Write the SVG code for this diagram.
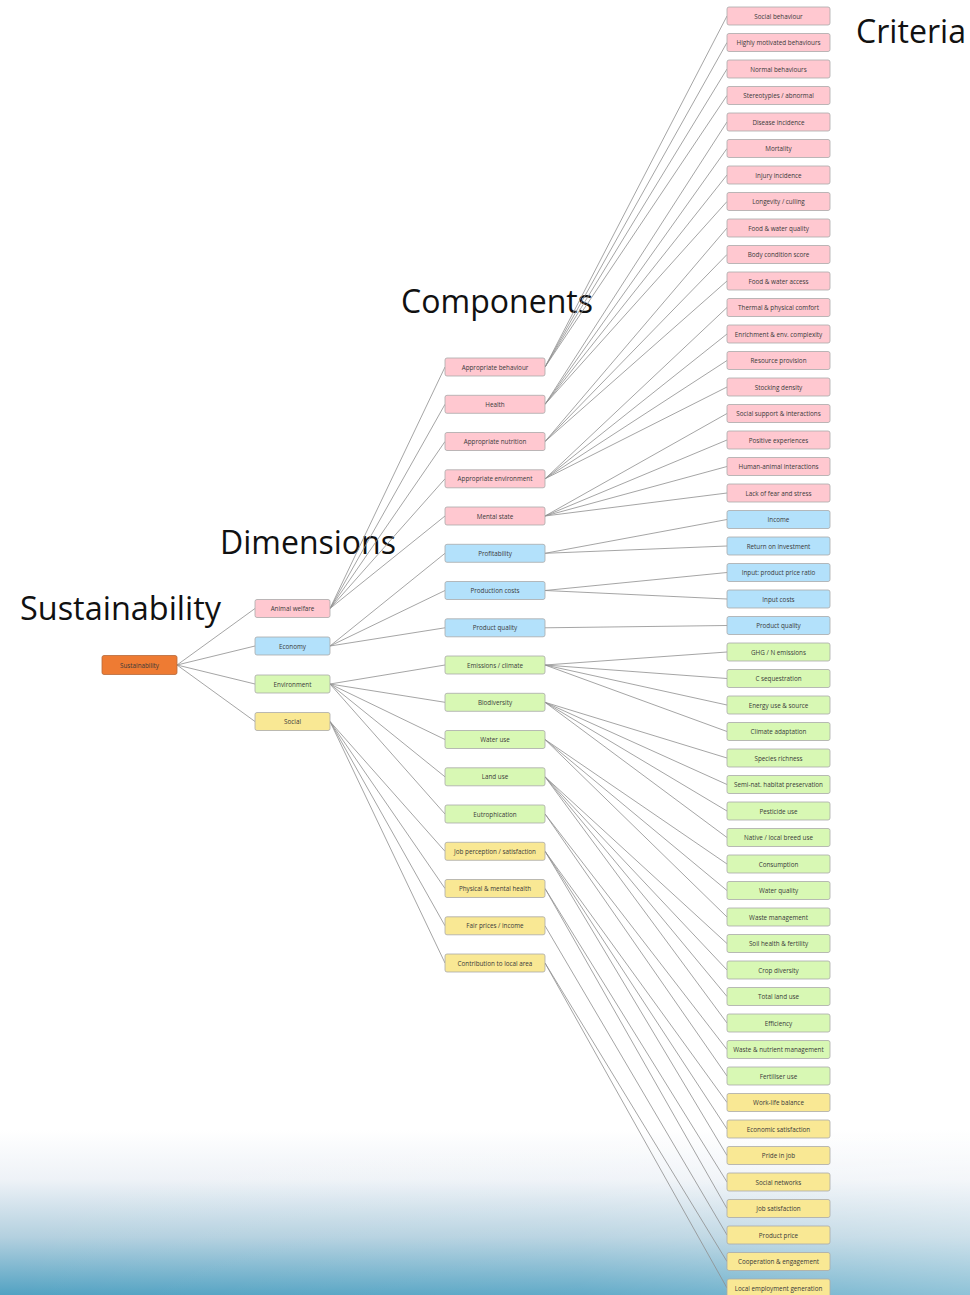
<svg xmlns="http://www.w3.org/2000/svg" width="970" height="1295" viewBox="0 0 970 1295">
<defs>
<linearGradient id="bg" x1="0" y1="1130" x2="0" y2="1295" gradientUnits="userSpaceOnUse">
<stop offset="0" stop-color="#ffffff"/>
<stop offset="0.3" stop-color="#eef2f7"/>
<stop offset="0.65" stop-color="#b3d0df"/>
<stop offset="1" stop-color="#52a2c2"/>
</linearGradient>
<linearGradient id="bgh" x1="0" y1="0" x2="970" y2="0" gradientUnits="userSpaceOnUse">
<stop offset="0" stop-color="#ffffff" stop-opacity="0"/>
<stop offset="0.6" stop-color="#ffffff" stop-opacity="0.1"/>
<stop offset="1" stop-color="#ffffff" stop-opacity="0.35"/>
</linearGradient>
<style>
.n rect{stroke:#a9a9a9;stroke-width:0.8}
.aw rect{fill:#ffc8d0}
.ec rect{fill:#b3e1fb}
.en rect{fill:#d8f8b4}
.so rect{fill:#f9e894}
.su rect{fill:#ee7b33;stroke:#b86a3a}
.n text{font-family:"Open Sans","Liberation Sans",sans-serif;font-size:6.3px;fill:#3a3a3a;text-anchor:middle;dominant-baseline:central}
.title{font-family:"Open Sans","Liberation Sans",sans-serif;font-size:32px;fill:#111}
#edges line{stroke:#8e8e8e;stroke-width:0.8}
</style>
</defs>
<rect x="0" y="0" width="970" height="1295" fill="#ffffff"/>
<rect x="0" y="1130" width="970" height="165" fill="url(#bg)"/>
<rect x="0" y="1130" width="970" height="165" fill="url(#bgh)"/>

<g id="titles">
<text class="title" x="20" y="620" textLength="201" lengthAdjust="spacingAndGlyphs">Sustainability</text>
<text class="title" x="220" y="554" textLength="176" lengthAdjust="spacingAndGlyphs">Dimensions</text>
<text class="title" x="401" y="313" textLength="192" lengthAdjust="spacingAndGlyphs">Components</text>
<text class="title" x="856" y="43" textLength="110" lengthAdjust="spacingAndGlyphs">Criteria</text>
</g>

<g id="edges">
<!-- Sustainability to dimensions -->
<line x1="177" y1="665" x2="255" y2="608.5"/>
<line x1="177" y1="665" x2="255" y2="646"/>
<line x1="177" y1="665" x2="255" y2="684"/>
<line x1="177" y1="665" x2="255" y2="721.5"/>
<!-- Dimensions to components -->
<line x1="330" y1="608.5" x2="445" y2="367"/>
<line x1="330" y1="608.5" x2="445" y2="404.3"/>
<line x1="330" y1="608.5" x2="445" y2="441.5"/>
<line x1="330" y1="608.5" x2="445" y2="478.8"/>
<line x1="330" y1="608.5" x2="445" y2="516"/>
<line x1="330" y1="646" x2="445" y2="553.3"/>
<line x1="330" y1="646" x2="445" y2="590.5"/>
<line x1="330" y1="646" x2="445" y2="627.8"/>
<line x1="330" y1="684" x2="445" y2="665"/>
<line x1="330" y1="684" x2="445" y2="702.3"/>
<line x1="330" y1="684" x2="445" y2="739.5"/>
<line x1="330" y1="684" x2="445" y2="776.8"/>
<line x1="330" y1="684" x2="445" y2="814"/>
<line x1="330" y1="721.5" x2="445" y2="851.3"/>
<line x1="330" y1="721.5" x2="445" y2="888.5"/>
<line x1="330" y1="721.5" x2="445" y2="925.8"/>
<line x1="330" y1="721.5" x2="445" y2="963"/>
<!-- Components to criteria -->
<line x1="545" y1="367" x2="727" y2="16"/>
<line x1="545" y1="367" x2="727" y2="42.5"/>
<line x1="545" y1="367" x2="727" y2="69"/>
<line x1="545" y1="367" x2="727" y2="95.5"/>
<line x1="545" y1="404.3" x2="727" y2="122"/>
<line x1="545" y1="404.3" x2="727" y2="148.5"/>
<line x1="545" y1="404.3" x2="727" y2="175"/>
<line x1="545" y1="404.3" x2="727" y2="201.5"/>
<line x1="545" y1="441.5" x2="727" y2="228"/>
<line x1="545" y1="441.5" x2="727" y2="254.5"/>
<line x1="545" y1="441.5" x2="727" y2="281"/>
<line x1="545" y1="478.8" x2="727" y2="307.5"/>
<line x1="545" y1="478.8" x2="727" y2="334"/>
<line x1="545" y1="478.8" x2="727" y2="360.5"/>
<line x1="545" y1="478.8" x2="727" y2="387"/>
<line x1="545" y1="516" x2="727" y2="413.5"/>
<line x1="545" y1="516" x2="727" y2="440"/>
<line x1="545" y1="516" x2="727" y2="466.5"/>
<line x1="545" y1="516" x2="727" y2="493"/>
<line x1="545" y1="553.3" x2="727" y2="519.5"/>
<line x1="545" y1="553.3" x2="727" y2="546"/>
<line x1="545" y1="590.5" x2="727" y2="572.5"/>
<line x1="545" y1="590.5" x2="727" y2="599"/>
<line x1="545" y1="627.8" x2="727" y2="625.5"/>
<line x1="545" y1="665" x2="727" y2="652"/>
<line x1="545" y1="665" x2="727" y2="678.5"/>
<line x1="545" y1="665" x2="727" y2="705"/>
<line x1="545" y1="665" x2="727" y2="731.5"/>
<line x1="545" y1="702.3" x2="727" y2="758"/>
<line x1="545" y1="702.3" x2="727" y2="784.5"/>
<line x1="545" y1="702.3" x2="727" y2="811"/>
<line x1="545" y1="702.3" x2="727" y2="837.5"/>
<line x1="545" y1="739.5" x2="727" y2="864"/>
<line x1="545" y1="739.5" x2="727" y2="890.5"/>
<line x1="545" y1="739.5" x2="727" y2="917"/>
<line x1="545" y1="776.8" x2="727" y2="943.5"/>
<line x1="545" y1="776.8" x2="727" y2="970"/>
<line x1="545" y1="776.8" x2="727" y2="996.5"/>
<line x1="545" y1="776.8" x2="727" y2="1023"/>
<line x1="545" y1="814" x2="727" y2="1049.5"/>
<line x1="545" y1="814" x2="727" y2="1076"/>
<line x1="545" y1="851.3" x2="727" y2="1102.5"/>
<line x1="545" y1="851.3" x2="727" y2="1129"/>
<line x1="545" y1="851.3" x2="727" y2="1155.5"/>
<line x1="545" y1="888.5" x2="727" y2="1182"/>
<line x1="545" y1="888.5" x2="727" y2="1208.5"/>
<line x1="545" y1="925.8" x2="727" y2="1235"/>
<line x1="545" y1="963" x2="727" y2="1261.5"/>
<line x1="545" y1="963" x2="727" y2="1288"/>
</g>

<g id="n-sustainability" class="n su"><rect x="102" y="655.5" width="75" height="19" rx="2"/><text x="139.5" y="665">Sustainability</text></g>

<g id="n-animal-welfare" class="n aw"><rect x="255" y="599.5" width="75" height="18" rx="2"/><text x="292.5" y="608.5">Animal welfare</text></g>
<g id="n-economy" class="n ec"><rect x="255" y="637" width="75" height="18" rx="2"/><text x="292.5" y="646">Economy</text></g>
<g id="n-environment" class="n en"><rect x="255" y="675" width="75" height="18" rx="2"/><text x="292.5" y="684">Environment</text></g>
<g id="n-social" class="n so"><rect x="255" y="712.5" width="75" height="18" rx="2"/><text x="292.5" y="721.5">Social</text></g>

<g id="c-appropriate-behaviour" class="n aw"><rect x="445" y="358" width="100" height="18" rx="2"/><text x="495" y="367">Appropriate behaviour</text></g>
<g id="c-health" class="n aw"><rect x="445" y="395.3" width="100" height="18" rx="2"/><text x="495" y="404.3">Health</text></g>
<g id="c-appropriate-nutrition" class="n aw"><rect x="445" y="432.5" width="100" height="18" rx="2"/><text x="495" y="441.5">Appropriate nutrition</text></g>
<g id="c-appropriate-environment" class="n aw"><rect x="445" y="469.8" width="100" height="18" rx="2"/><text x="495" y="478.8">Appropriate environment</text></g>
<g id="c-mental-state" class="n aw"><rect x="445" y="507" width="100" height="18" rx="2"/><text x="495" y="516">Mental state</text></g>
<g id="c-profitability" class="n ec"><rect x="445" y="544.3" width="100" height="18" rx="2"/><text x="495" y="553.3">Profitability</text></g>
<g id="c-production-costs" class="n ec"><rect x="445" y="581.5" width="100" height="18" rx="2"/><text x="495" y="590.5">Production costs</text></g>
<g id="c-product-quality" class="n ec"><rect x="445" y="618.8" width="100" height="18" rx="2"/><text x="495" y="627.8">Product quality</text></g>
<g id="c-emissions-climate" class="n en"><rect x="445" y="656" width="100" height="18" rx="2"/><text x="495" y="665">Emissions / climate</text></g>
<g id="c-biodiversity" class="n en"><rect x="445" y="693.3" width="100" height="18" rx="2"/><text x="495" y="702.3">Biodiversity</text></g>
<g id="c-water-use" class="n en"><rect x="445" y="730.5" width="100" height="18" rx="2"/><text x="495" y="739.5">Water use</text></g>
<g id="c-land-use" class="n en"><rect x="445" y="767.8" width="100" height="18" rx="2"/><text x="495" y="776.8">Land use</text></g>
<g id="c-eutrophication" class="n en"><rect x="445" y="805" width="100" height="18" rx="2"/><text x="495" y="814">Eutrophication</text></g>
<g id="c-job-perception" class="n so"><rect x="445" y="842.3" width="100" height="18" rx="2"/><text x="495" y="851.3">Job perception / satisfaction</text></g>
<g id="c-physical-mental-health" class="n so"><rect x="445" y="879.5" width="100" height="18" rx="2"/><text x="495" y="888.5">Physical &amp; mental health</text></g>
<g id="c-fair-prices" class="n so"><rect x="445" y="916.8" width="100" height="18" rx="2"/><text x="495" y="925.8">Fair prices / income</text></g>
<g id="c-contribution" class="n so"><rect x="445" y="954" width="100" height="18" rx="2"/><text x="495" y="963">Contribution to local area</text></g>

<g id="k01" class="n aw"><rect x="727" y="7" width="103" height="18" rx="2"/><text x="778.5" y="16">Social behaviour</text></g>
<g id="k02" class="n aw"><rect x="727" y="33.5" width="103" height="18" rx="2"/><text x="778.5" y="42.5">Highly motivated behaviours</text></g>
<g id="k03" class="n aw"><rect x="727" y="60" width="103" height="18" rx="2"/><text x="778.5" y="69">Normal behaviours</text></g>
<g id="k04" class="n aw"><rect x="727" y="86.5" width="103" height="18" rx="2"/><text x="778.5" y="95.5">Stereotypies / abnormal</text></g>
<g id="k05" class="n aw"><rect x="727" y="113" width="103" height="18" rx="2"/><text x="778.5" y="122">Disease incidence</text></g>
<g id="k06" class="n aw"><rect x="727" y="139.5" width="103" height="18" rx="2"/><text x="778.5" y="148.5">Mortality</text></g>
<g id="k07" class="n aw"><rect x="727" y="166" width="103" height="18" rx="2"/><text x="778.5" y="175">Injury incidence</text></g>
<g id="k08" class="n aw"><rect x="727" y="192.5" width="103" height="18" rx="2"/><text x="778.5" y="201.5">Longevity / culling</text></g>
<g id="k09" class="n aw"><rect x="727" y="219" width="103" height="18" rx="2"/><text x="778.5" y="228">Food &amp; water quality</text></g>
<g id="k10" class="n aw"><rect x="727" y="245.5" width="103" height="18" rx="2"/><text x="778.5" y="254.5">Body condition score</text></g>
<g id="k11" class="n aw"><rect x="727" y="272" width="103" height="18" rx="2"/><text x="778.5" y="281">Food &amp; water access</text></g>
<g id="k12" class="n aw"><rect x="727" y="298.5" width="103" height="18" rx="2"/><text x="778.5" y="307.5">Thermal &amp; physical comfort</text></g>
<g id="k13" class="n aw"><rect x="727" y="325" width="103" height="18" rx="2"/><text x="778.5" y="334">Enrichment &amp; env. complexity</text></g>
<g id="k14" class="n aw"><rect x="727" y="351.5" width="103" height="18" rx="2"/><text x="778.5" y="360.5">Resource provision</text></g>
<g id="k15" class="n aw"><rect x="727" y="378" width="103" height="18" rx="2"/><text x="778.5" y="387">Stocking density</text></g>
<g id="k16" class="n aw"><rect x="727" y="404.5" width="103" height="18" rx="2"/><text x="778.5" y="413.5">Social support &amp; interactions</text></g>
<g id="k17" class="n aw"><rect x="727" y="431" width="103" height="18" rx="2"/><text x="778.5" y="440">Positive experiences</text></g>
<g id="k18" class="n aw"><rect x="727" y="457.5" width="103" height="18" rx="2"/><text x="778.5" y="466.5">Human-animal interactions</text></g>
<g id="k19" class="n aw"><rect x="727" y="484" width="103" height="18" rx="2"/><text x="778.5" y="493">Lack of fear and stress</text></g>
<g id="k20" class="n ec"><rect x="727" y="510.5" width="103" height="18" rx="2"/><text x="778.5" y="519.5">Income</text></g>
<g id="k21" class="n ec"><rect x="727" y="537" width="103" height="18" rx="2"/><text x="778.5" y="546">Return on investment</text></g>
<g id="k22" class="n ec"><rect x="727" y="563.5" width="103" height="18" rx="2"/><text x="778.5" y="572.5">Input: product price ratio</text></g>
<g id="k23" class="n ec"><rect x="727" y="590" width="103" height="18" rx="2"/><text x="778.5" y="599">Input costs</text></g>
<g id="k24" class="n ec"><rect x="727" y="616.5" width="103" height="18" rx="2"/><text x="778.5" y="625.5">Product quality</text></g>
<g id="k25" class="n en"><rect x="727" y="643" width="103" height="18" rx="2"/><text x="778.5" y="652">GHG / N emissions</text></g>
<g id="k26" class="n en"><rect x="727" y="669.5" width="103" height="18" rx="2"/><text x="778.5" y="678.5">C sequestration</text></g>
<g id="k27" class="n en"><rect x="727" y="696" width="103" height="18" rx="2"/><text x="778.5" y="705">Energy use &amp; source</text></g>
<g id="k28" class="n en"><rect x="727" y="722.5" width="103" height="18" rx="2"/><text x="778.5" y="731.5">Climate adaptation</text></g>
<g id="k29" class="n en"><rect x="727" y="749" width="103" height="18" rx="2"/><text x="778.5" y="758">Species richness</text></g>
<g id="k30" class="n en"><rect x="727" y="775.5" width="103" height="18" rx="2"/><text x="778.5" y="784.5">Semi-nat. habitat preservation</text></g>
<g id="k31" class="n en"><rect x="727" y="802" width="103" height="18" rx="2"/><text x="778.5" y="811">Pesticide use</text></g>
<g id="k32" class="n en"><rect x="727" y="828.5" width="103" height="18" rx="2"/><text x="778.5" y="837.5">Native / local breed use</text></g>
<g id="k33" class="n en"><rect x="727" y="855" width="103" height="18" rx="2"/><text x="778.5" y="864">Consumption</text></g>
<g id="k34" class="n en"><rect x="727" y="881.5" width="103" height="18" rx="2"/><text x="778.5" y="890.5">Water quality</text></g>
<g id="k35" class="n en"><rect x="727" y="908" width="103" height="18" rx="2"/><text x="778.5" y="917">Waste management</text></g>
<g id="k36" class="n en"><rect x="727" y="934.5" width="103" height="18" rx="2"/><text x="778.5" y="943.5">Soil health &amp; fertility</text></g>
<g id="k37" class="n en"><rect x="727" y="961" width="103" height="18" rx="2"/><text x="778.5" y="970">Crop diversity</text></g>
<g id="k38" class="n en"><rect x="727" y="987.5" width="103" height="18" rx="2"/><text x="778.5" y="996.5">Total land use</text></g>
<g id="k39" class="n en"><rect x="727" y="1014" width="103" height="18" rx="2"/><text x="778.5" y="1023">Efficiency</text></g>
<g id="k40" class="n en"><rect x="727" y="1040.5" width="103" height="18" rx="2"/><text x="778.5" y="1049.5">Waste &amp; nutrient management</text></g>
<g id="k41" class="n en"><rect x="727" y="1067" width="103" height="18" rx="2"/><text x="778.5" y="1076">Fertiliser use</text></g>
<g id="k42" class="n so"><rect x="727" y="1093.5" width="103" height="18" rx="2"/><text x="778.5" y="1102.5">Work-life balance</text></g>
<g id="k43" class="n so"><rect x="727" y="1120" width="103" height="18" rx="2"/><text x="778.5" y="1129">Economic satisfaction</text></g>
<g id="k44" class="n so"><rect x="727" y="1146.5" width="103" height="18" rx="2"/><text x="778.5" y="1155.5">Pride in job</text></g>
<g id="k45" class="n so"><rect x="727" y="1173" width="103" height="18" rx="2"/><text x="778.5" y="1182">Social networks</text></g>
<g id="k46" class="n so"><rect x="727" y="1199.5" width="103" height="18" rx="2"/><text x="778.5" y="1208.5">Job satisfaction</text></g>
<g id="k47" class="n so"><rect x="727" y="1226" width="103" height="18" rx="2"/><text x="778.5" y="1235">Product price</text></g>
<g id="k48" class="n so"><rect x="727" y="1252.5" width="103" height="18" rx="2"/><text x="778.5" y="1261.5">Cooperation &amp; engagement</text></g>
<g id="k49" class="n so"><rect x="727" y="1279" width="103" height="18" rx="2"/><text x="778.5" y="1288">Local employment generation</text></g>
</svg>
